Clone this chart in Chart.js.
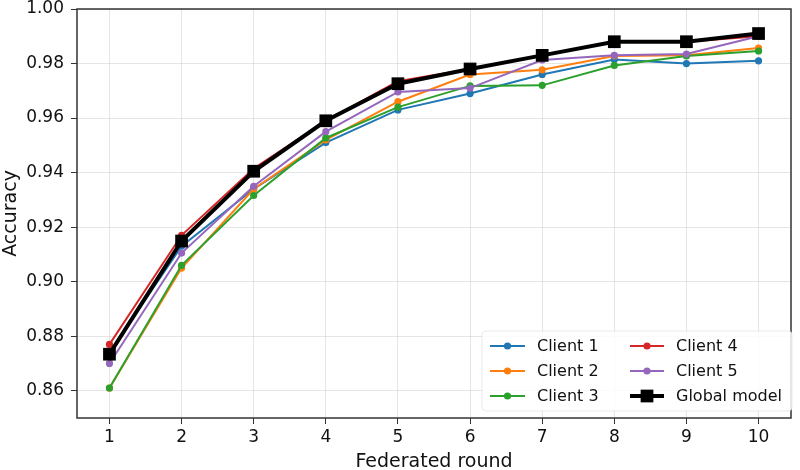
<!DOCTYPE html>
<html>
<head>
<meta charset="utf-8">
<script src="https://cdn.jsdelivr.net/npm/chart.js@4.4.1/dist/chart.umd.min.js"></script>
<style>
  html,body{margin:0;padding:0;background:#fff;}
  #wrap{width:800px;height:470px;}
</style>
</head>
<body>
<div id="wrap"><canvas id="c" width="800" height="470"></canvas></div>
<script>
// data
const rounds=[1,2,3,4,5,6,7,8,9,10];
const client1=[0.874,0.913,0.934,0.951,0.963,0.969,0.976,0.9815,0.980,0.981];
const client2=[0.861,0.905,0.934,0.952,0.966,0.976,0.9777,0.9828,0.983,0.9857];
const client3=[0.861,0.906,0.9316,0.9527,0.964,0.9718,0.972,0.9793,0.9828,0.9846];
const client4=[0.877,0.917,0.9415,0.959,0.9735,0.978,0.983,0.988,0.988,0.990];
const client5=[0.870,0.9105,0.935,0.955,0.9696,0.971,0.9813,0.983,0.9835,0.990];
const globalModel=[0.8734,0.9149,0.9405,0.959,0.9726,0.978,0.983,0.988,0.988,0.991];
const xTicks=[1,2,3,4,5,6,7,8,9,10];
const yTicks=[0.86,0.88,0.90,0.92,0.94,0.96,0.98,1.00];

const font='"DejaVu Sans", sans-serif';
const pts=arr=>rounds.map((r,i)=>({x:r,y:arr[i]}));
const client=(label,arr,col,ord)=>({label,data:pts(arr),borderColor:col,backgroundColor:col,
  borderWidth:2,pointRadius:3.6,pointHoverRadius:3.6,pointBorderWidth:0,pointStyle:'circle',order:ord});

const datasets=[
  client('Client 1',client1,'#1f77b4',5),
  client('Client 2',client2,'#ff7f0e',4),
  client('Client 3',client3,'#2ca02c',3),
  client('Client 4',client4,'#d62728',2),
  client('Client 5',client5,'#9467bd',1),
  {label:'Global model',data:pts(globalModel),borderColor:'#000',backgroundColor:'#000',
   borderWidth:4,pointStyle:'rect',pointRadius:9,pointHoverRadius:9,pointBorderWidth:0,order:0}
];

// frame round the plot + legend box (2 columns, matplotlib-style)
const frame={id:'frame',
  afterDatasetsDraw(ch){
    const {ctx,chartArea:a}=ch;
    ctx.save();
    ctx.strokeStyle='#333';ctx.lineWidth=1.5;
    ctx.strokeRect(a.left,a.top,a.right-a.left,a.bottom-a.top);
    // legend
    const bx=482,by=331,bw=310,bh=80;
    ctx.fillStyle='rgba(255,255,255,0.85)';
    ctx.strokeStyle='rgba(225,225,225,0.7)';ctx.lineWidth=1;
    ctx.beginPath();ctx.roundRect(bx,by,bw,bh,4);ctx.fill();ctx.stroke();
    ctx.font='16px '+font;ctx.textBaseline='middle';
    ch.data.datasets.forEach((ds,k)=>{
      const col=Math.floor(k/3),row=k%3;
      const x0=col?630:490,x1=col?664:525,ty=346+row*25,tx=col?676:537;
      ctx.strokeStyle=ds.borderColor;ctx.fillStyle=ds.borderColor;
      ctx.lineWidth=ds.borderWidth;
      ctx.beginPath();ctx.moveTo(x0,ty);ctx.lineTo(x1,ty);ctx.stroke();
      const mx=(x0+x1)/2;
      if(ds.pointStyle==='rect'){const s=ds.pointRadius*Math.SQRT1_2;ctx.fillRect(mx-s,ty-s,2*s,2*s);}
      else{ctx.beginPath();ctx.arc(mx,ty,ds.pointRadius,0,Math.PI*2);ctx.fill();}
      ctx.fillStyle='#111';ctx.fillText(ds.label,tx,ty+1);
    });
    ctx.restore();
  }};

new Chart(document.getElementById('c'),{
  type:'line',
  data:{datasets},
  plugins:[frame],
  options:{
    responsive:false,animation:false,
    layout:{padding:{top:8,right:2,left:0,bottom:0}},
    plugins:{legend:{display:false},tooltip:{enabled:false}},
    scales:{
      x:{type:'linear',min:0.55,max:10.45,
        afterBuildTicks:s=>{s.ticks=xTicks.map(v=>({value:v}));},
        afterFit:s=>{s.height=52;s.paddingLeft=0;s.paddingRight=0;},
        grid:{color:'rgba(190,190,190,0.4)',tickColor:'#333',tickLength:6,drawOnChartArea:true},
        border:{display:false},
        ticks:{color:'#111',font:{family:font,size:17},padding:3,maxRotation:0},
        title:{display:true,text:'Federated round',color:'#111',font:{family:font,size:19},padding:{top:0,bottom:-3}}
      },
      y:{min:0.85,max:1.0,
        afterBuildTicks:s=>{s.ticks=yTicks.map(v=>({value:v}));},
        afterFit:s=>{s.width=77;s.paddingTop=0;s.paddingBottom=0;},
        grid:{color:'rgba(190,190,190,0.4)',tickColor:'#333',tickLength:6},
        border:{display:false},
        ticks:{color:'#111',font:{family:font,size:17},padding:7,callback:v=>v.toFixed(2)},
        title:{display:true,text:'Accuracy',color:'#111',font:{family:font,size:19},padding:{top:0,bottom:0}}
      }
    }
  }
});
</script>
</body>
</html>
